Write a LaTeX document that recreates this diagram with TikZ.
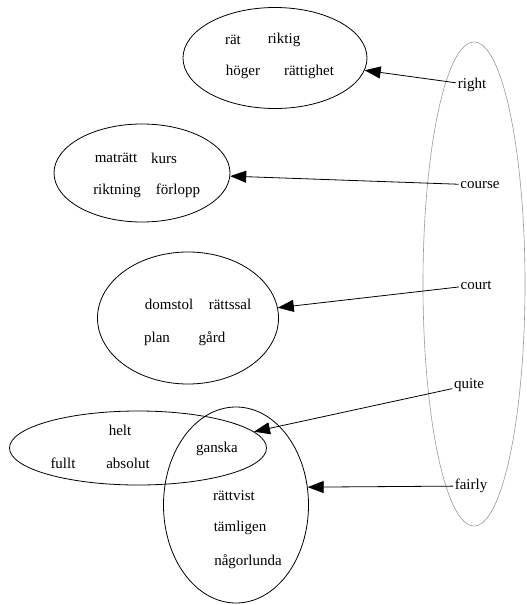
\documentclass[tikz,border=0pt]{standalone}
\usepackage{fontspec}
\setmainfont{Liberation Serif}
\usetikzlibrary{shapes.geometric,arrows.meta}

\begin{document}
\begin{tikzpicture}[x=1pt,y=-1pt,
    blob/.style={draw=black,ellipse,inner sep=0pt,line width=0.8pt},
    word/.style={inner sep=1.5pt,font=\fontsize{15}{17}\selectfont},
    pointer/.style={draw=black,line width=0.8pt,-{Triangle[length=16pt,width=12pt]}}]
    \useasboundingbox (0,0) rectangle (527,605);
    \node [draw=gray!80,ellipse,inner sep=0pt,line width=0.6pt,minimum width=102,minimum height=484] (stem) at (474,284) {};
    \node [blob,minimum width=184,minimum height=101] (rightset) at (275,58) {};
    \node [blob,minimum width=176,minimum height=98] (courseset) at (142,173) {};
    \node [blob,minimum width=181,minimum height=132] (courtset) at (188,318) {};
    \node [blob,minimum width=257,minimum height=74] (quiteset) at (138,448) {};
    \node [blob,minimum width=145,minimum height=196] (fairlyset) at (236,505) {};
    \node [word] (rat) at (233,40) {rät};
    \node [word] (riktig) at (284,40) {riktig};
    \node [word] (hoger) at (243,72) {höger};
    \node [word] (rattighet) at (309,72) {rättighet};
    \node [word] (matratt) at (116,158) {maträtt};
    \node [word] (kurs) at (164,158) {kurs};
    \node [word] (riktning) at (117,191) {riktning};
    \node [word] (forlopp) at (178,191) {förlopp};
    \node [word] (domstol) at (169,304) {domstol};
    \node [word] (rattssal) at (230,304) {rättssal};
    \node [word] (plan) at (157,339) {plan};
    \node [word] (gard) at (212,339) {gård};
    \node [word] (helt) at (120,430) {helt};
    \node [word] (fullt) at (63,463) {fullt};
    \node [word] (absolut) at (128,463) {absolut};
    \node [word] (ganska) at (217,449) {ganska};
    \node [word] (rattvist) at (234,496) {rättvist};
    \node [word] (tamligen) at (240,528) {tämligen};
    \node [word] (nagorlunda) at (248,562) {någorlunda};
    \node [word] (right) at (472,85) {right};
    \node [word] (course) at (480,185) {course};
    \node [word] (court) at (476,285) {court};
    \node [word] (quite) at (469,385) {quite};
    \node [word] (fairly) at (471,486) {fairly};
    \draw [pointer] (right) -- (rightset);
    \draw [pointer] (course) -- (courseset);
    \draw [pointer] (court) -- (courtset);
    \draw [pointer] (quite) -- (quiteset.8);
    \draw [pointer] (fairly) -- (fairlyset.14);
\end{tikzpicture}
\end{document}
